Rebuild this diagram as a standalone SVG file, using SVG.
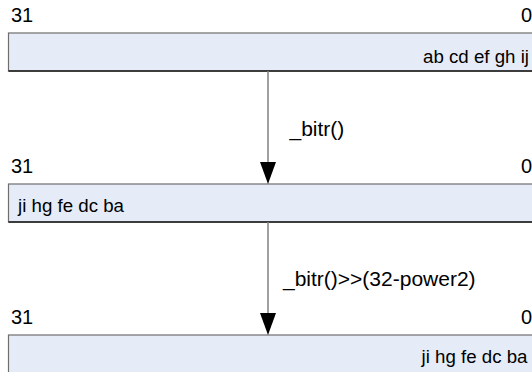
<svg xmlns="http://www.w3.org/2000/svg" width="532" height="372" viewBox="0 0 532 372">
  <style>
    .reg { fill: #e6ecf7; stroke: #6e6e6e; stroke-width: 1.2; }
    .base { stroke: #1a1a1a; stroke-width: 1.5; }
    .t { font-family: "Liberation Sans", Arial, sans-serif; font-size: 18.7px; fill: #000; }
    .bit { font-family: "Liberation Sans", Arial, sans-serif; font-size: 20px; fill: #000; }
    .lbl { font-family: "Liberation Sans", Arial, sans-serif; font-size: 21px; fill: #000; }
    .wire { stroke: #808080; stroke-width: 1.5; fill: none; }
    .head { fill: #000; }
  </style>
  <rect width="532" height="372" fill="#fff"/>

  <g id="reg-input">
    <text class="bit" x="11" y="22">31</text>
    <text class="bit" x="521" y="22">0</text>
    <rect class="reg" x="8.5" y="33" width="540" height="38"/>
    <line class="base" x1="8.5" y1="71" x2="532" y2="71"/>
    <text class="t" x="529" y="63" text-anchor="end">ab cd ef gh ij</text>
  </g>

  <g id="reg-reversed">
    <text class="bit" x="11" y="173">31</text>
    <text class="bit" x="521" y="173">0</text>
    <rect class="reg" x="8.5" y="184" width="540" height="38"/>
    <line class="base" x1="8.5" y1="222" x2="532" y2="222"/>
    <text class="t" x="18" y="212">ji hg fe dc ba</text>
  </g>

  <g id="reg-shifted">
    <text class="bit" x="11" y="324">31</text>
    <text class="bit" x="521" y="324">0</text>
    <rect class="reg" x="8.5" y="335" width="540" height="50"/>
    <text class="t" x="527.5" y="363" text-anchor="end">ji hg fe dc ba</text>
  </g>

  <g id="connectors">
    <line class="wire" x1="268" y1="71" x2="268" y2="163"/>
    <polygon class="head" points="260,162 276,162 268,184"/>
    <text class="lbl" x="289.5" y="136">_bitr()</text>

    <line class="wire" x1="268" y1="222" x2="268" y2="314"/>
    <polygon class="head" points="260,313 276,313 268,335"/>
    <text class="lbl" x="283" y="286">_bitr()&gt;&gt;(32-power2)</text>
  </g>
</svg>
